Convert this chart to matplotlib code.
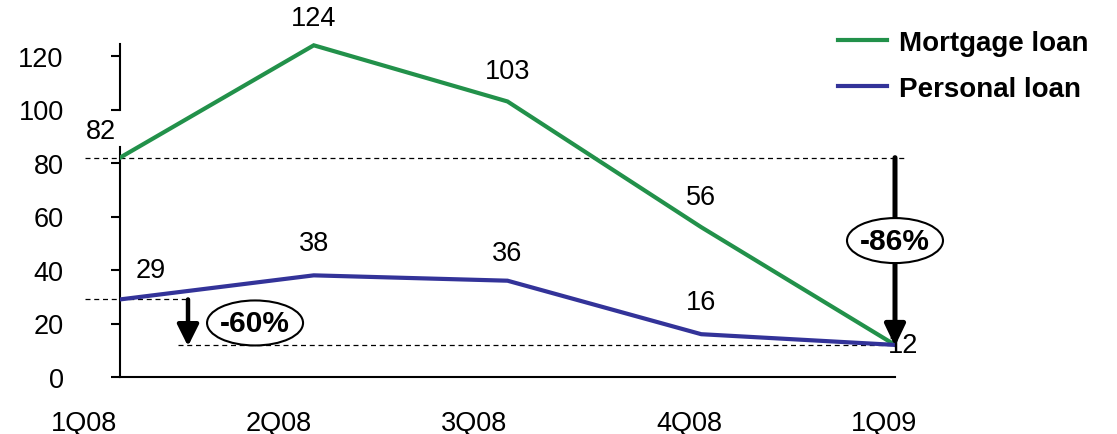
import matplotlib
matplotlib.use("Agg")
import matplotlib.pyplot as plt
from matplotlib.patches import Ellipse
from matplotlib.transforms import ScaledTranslation
import numpy as np

plt.rcParams['font.family'] = ['Liberation Sans', 'DejaVu Sans']

quarters = ["1Q08", "2Q08", "3Q08", "4Q08", "1Q09"]
mortgage = [82, 124, 103, 56, 12]
personal = [29, 38, 36, 16, 12]
mortgage_labels = ["82", "124", "103", "56", ""]
personal_labels = ["29", "38", "36", "16", "12"]
yticks = [0, 20, 40, 60, 80, 100, 120]

GREEN = "#22914A"
BLUE = "#333399"
FS = 19.5

W, H = 1117, 435
fig = plt.figure(figsize=(W / 100, H / 100), dpi=100)
x0, x1 = 120, 895
y0, ytop = 378, 378 - 125 * 2.675
ax = fig.add_axes([x0 / W, (H - y0) / H, (x1 - x0) / W, (y0 - ytop) / H])
x = np.arange(len(quarters))
ax.set_xlim(0, 4)
ax.set_ylim(0, 125)

ax.plot(x, mortgage, color=GREEN, lw=3, solid_joinstyle='miter', zorder=3, label="Mortgage loan")
ax.plot(x, personal, color=BLUE, lw=3, solid_joinstyle='miter', zorder=3, label="Personal loan")

for s in ["top", "right", "left"]:
    ax.spines[s].set_visible(False)
ax.spines["bottom"].set_linewidth(1.5)
# broken left axis
ax.plot([0, 0], [0, 86], color="black", lw=1.5, clip_on=False, zorder=2)
ax.plot([0, 0], [100, 124.5], color="black", lw=1.5, clip_on=False, zorder=2)

ax.set_yticks(yticks)
ax.set_yticklabels([str(v) for v in yticks], fontsize=FS)
ax.tick_params(axis='y', length=6.5, width=1.5, direction='out', pad=34)
ax.set_xticks(x)
ax.set_xticklabels(quarters, fontsize=FS)
ax.tick_params(axis='x', length=0, pad=23.5)
offs = [-36, -35, -33, -12, -11]
for lab, o in zip(ax.get_xticklabels(), offs):
    lab.set_transform(lab.get_transform() + ScaledTranslation(o / 100, 0, fig.dpi_scale_trans))

# data labels (offsets in points)
m_off = [(-14, 19), (0, 20), (0, 22), (0, 22), (0, 0)]
p_off = [(22, 21), (0, 23), (0, 20), (0, 23), (6, 0)]
for xi, v, t, o in zip(x, mortgage, mortgage_labels, m_off):
    if t:
        ax.annotate(t, (xi, v), xytext=o, textcoords='offset points', ha='center', va='center', fontsize=FS, zorder=4)
for xi, v, t, o in zip(x, personal, personal_labels, p_off):
    ax.annotate(t, (xi, v), xytext=o, textcoords='offset points', ha='center', va='center', fontsize=FS, zorder=4,
                annotation_clip=False)

# reference dashed lines
dash = dict(color="black", lw=0.9, ls=(0, (4, 3)), clip_on=False, zorder=2)
ax.plot([-0.18, 4.05], [82, 82], **dash)
ax.plot([-0.18, 0.36], [29, 29], **dash)
ax.plot([0.30, 4.0], [12, 12], **dash)

# arrows
ax.annotate("", xy=(0.351, 11.5), xytext=(0.351, 29),
            arrowprops=dict(arrowstyle="-|>,head_length=1.3,head_width=0.65", color="black", lw=3.2,
                            shrinkA=0, shrinkB=0), zorder=5)
ax.annotate("", xy=(4.0, 11.5), xytext=(4.0, 82),
            arrowprops=dict(arrowstyle="-|>,head_length=1.3,head_width=0.62", color="black", lw=3.6,
                            shrinkA=0, shrinkB=0), zorder=5, annotation_clip=False)

# ellipse labels
def ellipse_label(xc, yc, text):
    w = 96 / 193.75
    h = 45 / 2.675
    e = Ellipse((xc, yc), w, h, facecolor="white", edgecolor="black", lw=1.5, zorder=6, clip_on=False)
    ax.add_patch(e)
    ax.text(xc, yc, text, ha='center', va='center', fontsize=21.5, fontweight='bold', zorder=7)

ellipse_label(0.697, 20.2, "-60%")
ellipse_label(4.0, 51.0, "-86%")

leg = ax.legend(loc='upper left', bbox_to_anchor=(838 / W, 1 - 31 / H), bbox_transform=fig.transFigure,
                frameon=False, prop={'weight': 'bold', 'size': 20},
                handlelength=1.76, handletextpad=0.43, labelspacing=0.72, borderpad=0, borderaxespad=0)
for line in leg.get_lines():
    line.set_linewidth(3)

fig.savefig("out.png", dpi=100)
